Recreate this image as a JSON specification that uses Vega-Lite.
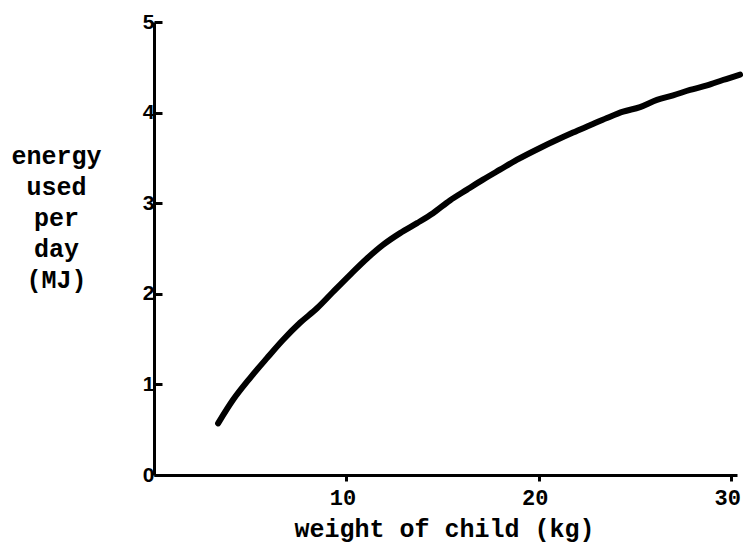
{
  "$schema": "https://vega.github.io/schema/vega-lite/v6.json",
  "width": 583,
  "height": 453,
  "autosize": "none",
  "padding": {"left": 154, "top": 22, "right": 6, "bottom": 69},
  "background": "white",
  "config": {"view": {"stroke": null}},
  "data": {"values": [
    {"weight": 3.33, "energy": 0.57},
    {"weight": 4.11, "energy": 0.83},
    {"weight": 4.99, "energy": 1.07},
    {"weight": 5.87, "energy": 1.29},
    {"weight": 6.7, "energy": 1.49},
    {"weight": 7.59, "energy": 1.68},
    {"weight": 8.47, "energy": 1.84},
    {"weight": 9.3, "energy": 2.02},
    {"weight": 10.19, "energy": 2.21},
    {"weight": 11.07, "energy": 2.39},
    {"weight": 11.9, "energy": 2.54},
    {"weight": 12.79, "energy": 2.67},
    {"weight": 13.67, "energy": 2.78},
    {"weight": 14.5, "energy": 2.89},
    {"weight": 15.38, "energy": 3.03},
    {"weight": 16.27, "energy": 3.15},
    {"weight": 17.1, "energy": 3.26},
    {"weight": 17.98, "energy": 3.37},
    {"weight": 18.87, "energy": 3.48},
    {"weight": 20.06, "energy": 3.61},
    {"weight": 20.95, "energy": 3.7},
    {"weight": 21.78, "energy": 3.78},
    {"weight": 22.66, "energy": 3.86},
    {"weight": 23.54, "energy": 3.94},
    {"weight": 24.38, "energy": 4.01},
    {"weight": 25.26, "energy": 4.06},
    {"weight": 26.14, "energy": 4.14},
    {"weight": 26.98, "energy": 4.19},
    {"weight": 27.86, "energy": 4.25},
    {"weight": 28.74, "energy": 4.3},
    {"weight": 29.57, "energy": 4.36},
    {"weight": 30.46, "energy": 4.42}
  ]},
  "mark": {"type": "line", "color": "black", "strokeWidth": 6, "strokeCap": "round", "interpolate": "monotone", "clip": false},
  "encoding": {
    "x": {
      "field": "weight", "type": "quantitative",
      "scale": {"domain": [0, 30.3], "nice": false, "zero": false},
      "axis": {
        "values": [10, 20, 30], "grid": false,
        "domainColor": "black", "domainWidth": 3,
        "tickColor": "black", "tickWidth": 3, "tickSize": 6,
        "labelFont": "Liberation Mono", "labelFontWeight": "bold", "labelFontSize": 22, "labelColor": "black",
        "labelPadding": 6, "labelFlush": false, "labelOffset": -4,
        "title": "weight of child (kg)",
        "titleFont": "Liberation Mono", "titleFontWeight": "bold", "titleFontSize": 25, "titleColor": "black",
        "titleX": 290, "titleY": 61, "titleBaseline": "alphabetic", "titleAlign": "center"
      }
    },
    "y": {
      "field": "energy", "type": "quantitative",
      "scale": {"domain": [0, 5], "nice": false},
      "axis": {
        "values": [0, 1, 2, 3, 4, 5], "grid": false,
        "domainColor": "black", "domainWidth": 3,
        "tickColor": "black", "tickWidth": 3, "tickSize": -8,
        "labelFont": "Liberation Sans", "labelFontWeight": "bold", "labelFontSize": 21, "labelColor": "black",
        "labelPadding": 8, "labelFlush": false,
        "title": ["energy", "used", "per", "day", "(MJ)"],
        "titleFont": "Liberation Mono", "titleFontWeight": "bold", "titleFontSize": 25, "titleColor": "black",
        "titleAngle": 0, "titleX": -98, "titleY": 141, "titleAlign": "center", "titleBaseline": "alphabetic",
        "titleLineHeight": 31
      }
    }
  }
}
